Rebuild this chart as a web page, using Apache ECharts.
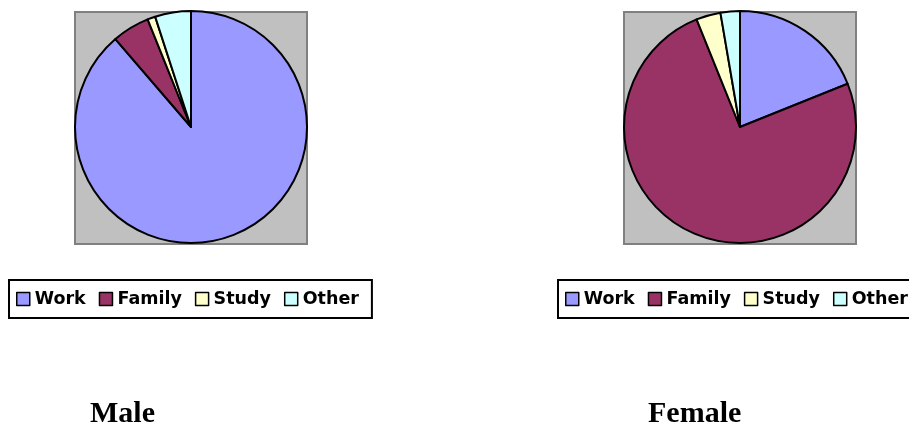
<!DOCTYPE html>
<html>
<head>
<meta charset="utf-8">
<script src="https://cdn.jsdelivr.net/npm/echarts@6/dist/echarts.min.js"></script>
<style>
  html, body { margin: 0; padding: 0; background: #ffffff; }
  #chart { width: 909px; height: 424px; }
</style>
</head>
<body>
<div id="chart"></div>
<script>
  // reasons, same order in both pies
  var categories = ['Work', 'Family', 'Study', 'Other']
  var maleValues = [88.7, 5.2, 1.1, 5.0]
  var femaleValues = [18.9, 74.9, 3.4, 2.7]
  var groupNames = ['Male', 'Female']
  var sliceColors = ['#9999FF', '#993366', '#FFFFCC', '#CCFFFF']

  function toData (values) {
    return categories.map(function (name, i) {
      return { name: name, value: values[i] }
    })
  }

  function makeLegend (left) {
    return {
      data: categories,
      left: left,
      top: 280,
      width: 360,
      orient: 'horizontal',
      icon: 'rect',
      itemWidth: 13,
      itemHeight: 13,
      itemGap: 13,
      padding: [10, 13, 10, 7],
      backgroundColor: '#ffffff',
      borderColor: '#000000',
      borderWidth: 2,
      borderRadius: 0,
      selectedMode: false,
      itemStyle: { borderColor: '#000000', borderWidth: 1.5 },
      textStyle: {
        fontFamily: 'DejaVu Sans',
        fontWeight: 'bold',
        fontSize: 17.5,
        color: '#000000'
      }
    }
  }

  function makePie (name, values, cx) {
    return {
      name: name,
      type: 'pie',
      center: [cx, 127],
      radius: 116,
      startAngle: 90,
      clockwise: true,
      silent: true,
      label: { show: false },
      labelLine: { show: false },
      emphasis: { disabled: true },
      itemStyle: { borderColor: '#000000', borderWidth: 2 },
      data: toData(values)
    }
  }

  var chart = echarts.init(document.getElementById('chart'), null, { renderer: 'canvas' })
  var option = {
    animation: false,
    color: sliceColors,
    backgroundColor: '#ffffff',
    graphic: [
      // grey plot areas behind the pies
      { type: 'rect', z: -1, shape: { x: 75, y: 12, width: 232, height: 232 },
        style: { fill: '#C0C0C0', stroke: '#808080', lineWidth: 2 } },
      { type: 'rect', z: -1, shape: { x: 624, y: 12, width: 232, height: 232 },
        style: { fill: '#C0C0C0', stroke: '#808080', lineWidth: 2 } }
    ],
    title: [
      { text: groupNames[0], left: 85, top: 394,
        textStyle: { fontFamily: 'Liberation Serif', fontWeight: 'bold', fontSize: 30, color: '#000' } },
      { text: groupNames[1], left: 643, top: 394,
        textStyle: { fontFamily: 'Liberation Serif', fontWeight: 'bold', fontSize: 30, color: '#000' } }
    ],
    legend: [makeLegend(9), makeLegend(558)],
    series: [
      makePie(groupNames[0], maleValues, 191),
      makePie(groupNames[1], femaleValues, 740)
    ]
  }
  chart.setOption(option)
</script>
</body>
</html>
